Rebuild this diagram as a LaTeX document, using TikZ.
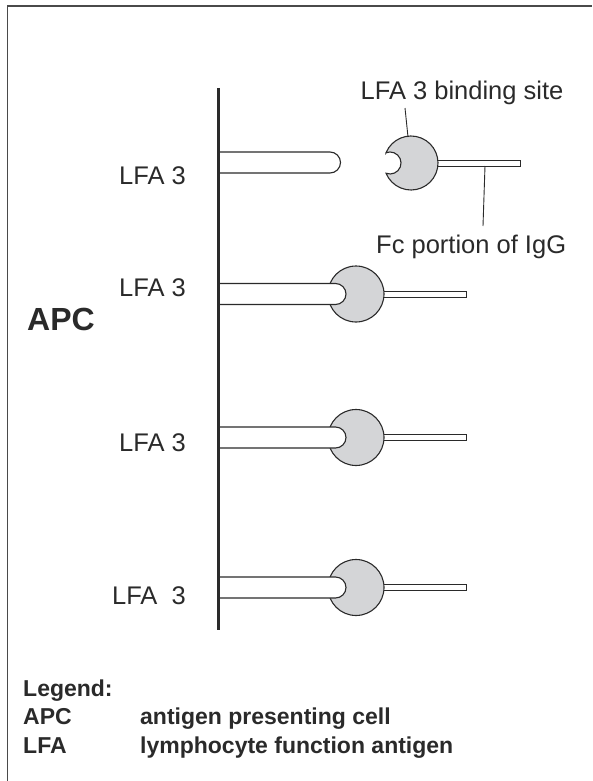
\documentclass[tikz,border=0pt]{standalone}
\usepackage{fontspec}
\setmainfont{Liberation Sans}
\definecolor{ink}{HTML}{2A2A2A}
\definecolor{cellgray}{HTML}{D4D5D7}
\definecolor{framegray}{HTML}{4A4A4A}
\tikzset{
  lbl/.style={font=\fontsize{25.5}{30}\selectfont, text=ink, inner sep=0pt},
  legtxt/.style={font=\bfseries\fontsize{23}{28}\selectfont, text=ink, inner sep=0pt, anchor=base west},
  rod/.style={draw=ink, line width=1.1pt, fill=white},
  head/.style={draw=ink, line width=1.1pt, fill=cellgray},
  stem/.style={draw=ink, line width=0.9pt, fill=white},
  leader/.style={draw=ink, line width=0.9pt},
  membrane/.style={draw=ink, line width=3pt},
  frameline/.style={draw=framegray, line width=1.6pt}
}
\begin{document}
\begin{tikzpicture}[x=1pt,y=1pt]
\useasboundingbox (0,0) rectangle (592,-781);
% frame (top and left only)
\coordinate (fbl) at (7.5,-781);
\coordinate (ftl) at (7.5,-6);
\coordinate (ftr) at (592,-6);
\draw[frameline] (fbl) -- (ftl) -- (ftr);

% unbound molecule
\path[stem] (432,-160.5) rectangle (520,-166);
\path[head] ([shift={(411,-163)}]157.7:27) arc[start angle=157.7,end angle=-157.7,radius=27]
  arc[start angle=-111.3,end angle=111.3,radius=11] -- cycle;
\path[rod] (218,-152) -- (330,-152) arc[start angle=90,end angle=-90,radius=10.5] -- (218,-173);

% bound molecules
\foreach \yy in {294,437.5,587.5} {
  \path[stem] (380,-\yy+3) rectangle (466,-\yy-3);
  \path[head] (356,-\yy) circle[radius=28];
  \path[rod] (218,-\yy+10.5) -- (335.5,-\yy+10.5) arc[start angle=90,end angle=-90,radius=10.5] -- (218,-\yy-10.5);
}

% membrane
\coordinate (memtop) at (218,-88);
\coordinate (membot) at (218,-630);
\draw[membrane] (memtop) -- (membot);

% annotations
\node[lbl, anchor=base] (bindlbl) at (462,-100) {LFA 3 binding site};
\coordinate (bs1) at (405,-108);
\coordinate (bs2) at (408,-137);
\draw[leader] (bs1) -- (bs2);
\node[lbl, anchor=base west] (fclbl) at (376,-253) {Fc portion of IgG};
\coordinate (fc1) at (485,-166);
\coordinate (fc2) at (483,-226);
\draw[leader] (fc1) -- (fc2);

% LFA labels
\node[lbl, anchor=base east] (l1) at (186,-184) {LFA 3};
\node[lbl, anchor=base east] (l2) at (186,-296) {LFA 3};
\node[lbl, anchor=base east] (l3) at (186,-451) {LFA 3};
\node[lbl, anchor=base east] (l4) at (186,-604) {LFA\ \ 3};

% APC
\node[font=\bfseries\fontsize{32}{38}\selectfont, text=ink, inner sep=0pt, anchor=base west] (apc) at (27,-330) {APC};

% legend
\node[legtxt] (leg) at (23,-696) {Legend:};
\node[legtxt] (legapc) at (23,-724.5) {APC};
\node[legtxt] (leglfa) at (23,-753) {LFA};
\node[legtxt] (legapcd) at (140,-724.5) {antigen presenting cell};
\node[legtxt] (leglfad) at (140,-753) {lymphocyte function antigen};
\end{tikzpicture}
\end{document}
